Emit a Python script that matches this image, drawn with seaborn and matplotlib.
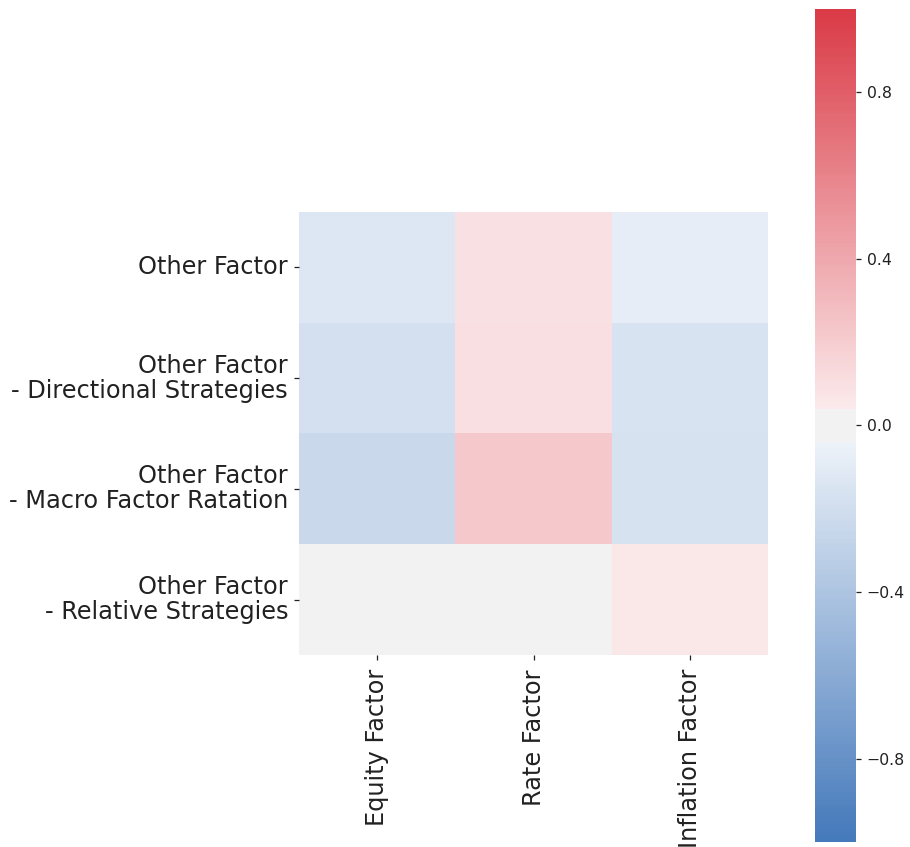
import numpy as np
import pandas as pd
import matplotlib
matplotlib.use("Agg")
import matplotlib.pyplot as plt
import seaborn as sns
from seaborn.external import husl
from seaborn.utils import set_hls_values

ROW_LABELS = [
    "Other Factor",
    "Other Factor\n- Directional Strategies",
    "Other Factor\n- Macro Factor Ratation",
    "Other Factor\n- Relative Strategies",
]
COL_LABELS = ["Equity Factor", "Rate Factor", "Inflation Factor"]

EQUITY = [-0.13, -0.18, -0.245, 0.0]
RATE = [0.09, 0.105, 0.22, 0.0]
INFLATION = [-0.085, -0.16, -0.165, 0.06]

CBAR_TICKS = [-0.8, -0.4, 0.0, 0.4, 0.8]


def old_diverging_cmap(h_neg, h_pos, s=75, l=50, sep=10, n=256):
    # seaborn < 0.11 style: pale end keeps hue saturation, gray band at centre
    def side(h, reverse):
        rgb = husl.husl_to_rgb(h, s, l)
        light = set_hls_values(rgb, l=.95)
        cols = [rgb, light] if reverse else [light, rgb]
        return sns.blend_palette(cols, 128 - sep // 2)

    neg = side(h_neg, True)
    pos = side(h_pos, False)
    mid = [(.95, .95, .95)] * sep
    return sns.blend_palette(list(neg) + mid + list(pos), n, as_cmap=True)


def main():
    corr = pd.DataFrame(
        {COL_LABELS[0]: EQUITY, COL_LABELS[1]: RATE, COL_LABELS[2]: INFLATION},
        index=ROW_LABELS,
    )

    fig = plt.figure(figsize=(9.1, 8.47), dpi=100)
    ax = fig.add_axes([0.3286, 0.2267, 0.5154, 0.523])
    cax = fig.add_axes([0.8956, 0.0059, 0.045, 0.9835])

    cmap = old_diverging_cmap(250, 10)
    sns.heatmap(corr, cmap=cmap, vmin=-1, vmax=1, center=0,
                ax=ax, cbar_ax=cax, cbar_kws={"ticks": CBAR_TICKS})

    ax.tick_params(axis="both", labelsize=17.3, length=3.6, width=0.9,
                   colors="0.13")
    ax.tick_params(axis="x", pad=6.5)
    ax.tick_params(axis="y", pad=4.3)
    ax.set_xticklabels(COL_LABELS, rotation=90)
    ax.set_yticklabels(ROW_LABELS, rotation=0, linespacing=1.05)
    for lbl in ax.get_yticklabels():
        lbl.set_y(lbl.get_position()[1])
    cax.tick_params(labelsize=11.3, length=3.6, width=0.9, pad=4, colors="0.13")

    fig.savefig("out.png", dpi=100)
    plt.close(fig)


if __name__ == "__main__":
    main()
